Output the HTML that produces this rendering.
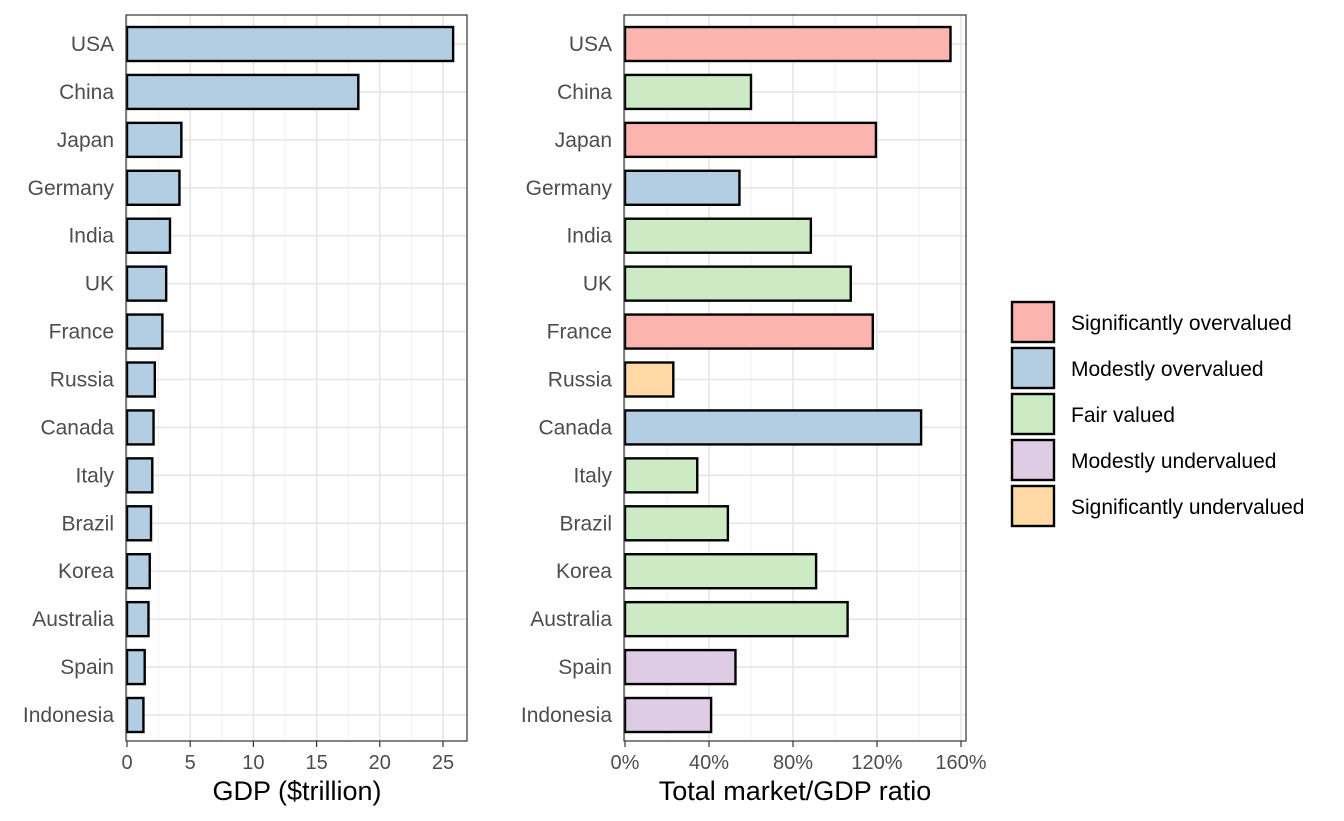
<!DOCTYPE html>
<html><head><meta charset="utf-8"><style>
body{margin:0;background:#fff;}
svg text{font-family:"Liberation Sans",sans-serif;}
</style></head><body>
<svg id="c" width="1344" height="816" xmlns="http://www.w3.org/2000/svg"></svg>
<script>
const countries=["USA","China","Japan","Germany","India","UK","France","Russia","Canada","Italy","Brazil","Korea","Australia","Spain","Indonesia"];
const gdp=[25.8,18.3,4.3,4.15,3.4,3.1,2.8,2.2,2.1,2.0,1.9,1.8,1.7,1.4,1.3];
const ratio=[155,60,119.5,54.5,88.5,107.5,118,23,141,34.4,49,91,106,52.6,41];
const cls=[0,2,0,1,2,2,0,4,1,2,2,2,2,3,3];
const classes=["Significantly overvalued","Modestly overvalued","Fair valued","Modestly undervalued","Significantly undervalued"];
const colors=["#FBB4AE","#B3CDE3","#CCEBC5","#DECBE4","#FED9A6"];
const gdpTicks=[0,5,10,15,20,25];
const ratioTicks=[0,40,80,120,160];
const NS="http://www.w3.org/2000/svg";
const svg=document.getElementById('c');
function mk(t,a,p){const e=document.createElementNS(NS,t);for(const k in a)e.setAttribute(k,a[k]);(p||svg).appendChild(e);return e;}
const top0=15,bot=741,y0=44,step=(715-44)/14,bh=34;
const yPos=i=>y0+i*step;
function panel(name,left,right,xmin,xscale,vals,fills,ticks,fmt,title,titleX){
  const g=mk('g',{});
  
  
  const X=v=>left+1+(v-xmin)*xscale;
  for(let i=0;i<ticks.length;i++){
    const t=ticks[i],m=t+(ticks[1]-ticks[0])/2;
    const mx=X(m); if(mx<right) mk('line',{x1:mx,x2:mx,y1:top0,y2:bot,stroke:'#f0f0f0','stroke-width':1},g);
    const x=X(t); mk('line',{x1:x,x2:x,y1:top0,y2:bot,stroke:'#e6e6e6','stroke-width':1.6},g);
  }
  countries.forEach((c,i)=>{mk('line',{x1:left,x2:right,y1:yPos(i),y2:yPos(i),stroke:'#e6e6e6','stroke-width':1.6},g);});
  countries.forEach((c,i)=>{
    const r=mk('rect',{x:X(0),y:yPos(i)-bh/2,width:X(vals[i])-X(0),height:bh,fill:fills[i],stroke:'#000','stroke-width':2.4},g);
    
    
    const t=mk('text',{x:left-12,y:yPos(i)+7,'text-anchor':'end','font-size':21,fill:'#4d4d4d'},g);
    t.textContent=c;
    
    
  });
  mk('rect',{x:left,y:top0,width:right-left,height:bot-top0,fill:'none',stroke:'#333','stroke-width':1.2},g);
  ticks.forEach(t=>{
    const x=X(t);
    mk('line',{x1:x,x2:x,y1:bot,y2:bot+6,stroke:'#333','stroke-width':1.2},g);
    const tx=mk('text',{x:x,y:bot+28,'text-anchor':'middle','font-size':20,fill:'#4d4d4d'},g);
    tx.textContent=fmt(t);
    
    
  });
  const tt=mk('text',{x:titleX,y:800,'text-anchor':'middle','font-size':27,fill:'#000'},g);
  tt.textContent=title;
  
  
}
panel('gdp',126,467,0,12.64,gdp,gdp.map(()=>colors[1]),gdpTicks,t=>String(t),'GDP ($trillion)',297);
panel('ratio',624,966,0,2.1,ratio,cls.map(c=>colors[c]),ratioTicks,t=>t+'%','Total market/GDP ratio',795);
const lg=mk('g',{});


classes.forEach((c,i)=>{
  const y=302+i*46;
  const r=mk('rect',{x:1012,y:y,width:42,height:40,fill:colors[i],stroke:'#000','stroke-width':2.4},lg);
  
  
  const t=mk('text',{x:1071,y:y+28,'font-size':21,fill:'#000'},lg);
  t.textContent=c;
  
  
});
</script>
</body></html>
